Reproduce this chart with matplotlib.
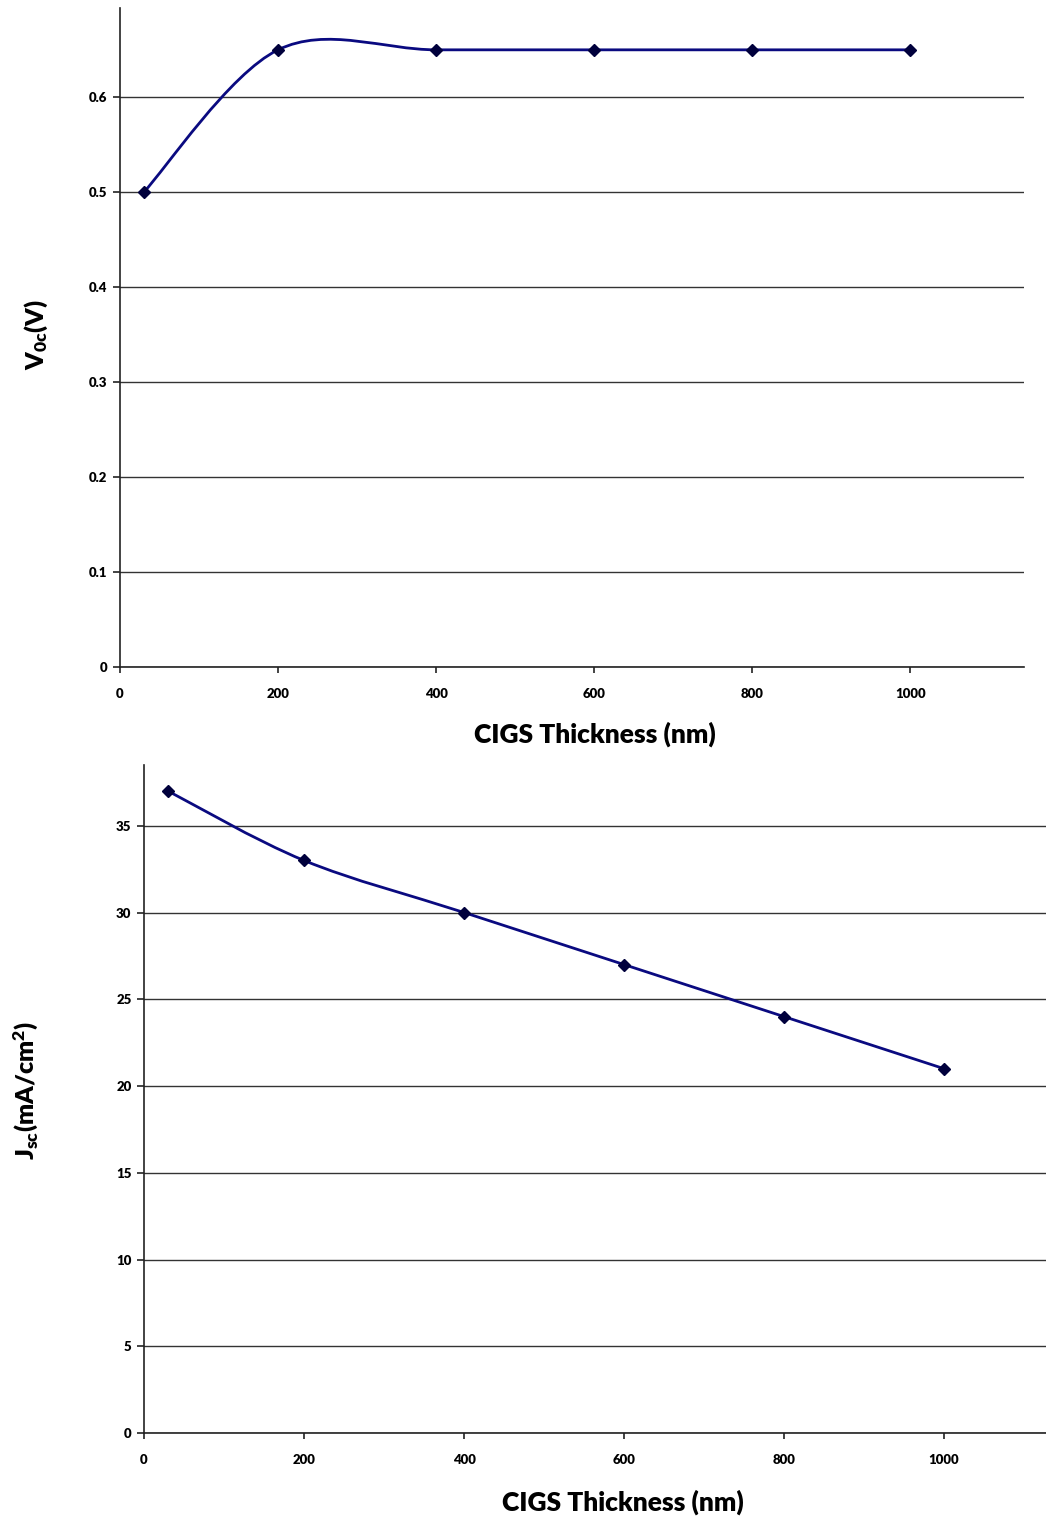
import matplotlib
matplotlib.use("Agg")
import matplotlib.pyplot as plt
from matplotlib.path import Path
from matplotlib.patches import PathPatch
import numpy as np

plt.rcParams['font.family'] = ['Lato', 'DejaVu Sans']
plt.rcParams['mathtext.default'] = 'regular'

thickness = [30, 200, 400, 600, 800, 1000]
voc = [0.5, 0.65, 0.65, 0.65, 0.65, 0.65]
jsc = [37, 33, 30, 27, 24, 21]

voc_yticks = [0, 0.1, 0.2, 0.3, 0.4, 0.5, 0.6]
voc_ytick_labels = ["0", "0.1", "0.2", "0.3", "0.4", "0.5", "0.6"]
jsc_yticks = [0, 5, 10, 15, 20, 25, 30, 35]
xticks = [0, 200, 400, 600, 800, 1000]

LINE = '#0a0a80'
MARK = '#00003c'


def smooth_path(x, y):
    x = np.asarray(x, float)
    y = np.asarray(y, float)
    n = len(x)
    verts = [(x[0], y[0])]
    codes = [Path.MOVETO]
    for i in range(n - 1):
        im1 = max(i - 1, 0)
        ip2 = min(i + 2, n - 1)
        c1 = (x[i] + (x[i + 1] - x[im1]) / 6, y[i] + (y[i + 1] - y[im1]) / 6)
        c2 = (x[i + 1] - (x[ip2] - x[i]) / 6, y[i + 1] - (y[ip2] - y[i]) / 6)
        verts += [c1, c2, (x[i + 1], y[i + 1])]
        codes += [Path.CURVE4] * 3
    return Path(verts, codes)


def style(ax, xlim, ylim, yticks, ylabels, xlabel, ylabel, ylab_x, ylab_y, xlab_x, xlab_y):
    ax.set_xlim(*xlim)
    ax.set_ylim(*ylim)
    ax.set_xticks(xticks)
    ax.set_xticklabels([str(t) for t in xticks], fontsize=9.5, fontweight='heavy')
    ax.set_yticks(yticks)
    ax.set_yticklabels(ylabels, fontsize=9.5, fontweight='heavy')
    ax.tick_params(axis='x', direction='out', length=4, width=1.2, pad=11, colors='#222222', labelcolor='black')
    ax.tick_params(axis='y', direction='out', length=5, width=1.2, pad=4, colors='#222222', labelcolor='black')
    ax.spines['top'].set_visible(False)
    ax.spines['right'].set_visible(False)
    for s in ['left', 'bottom']:
        ax.spines[s].set_color('#222222')
        ax.spines[s].set_linewidth(1.2)
    ax.grid(axis='y', color='#333333', linewidth=1.0)
    ax.set_axisbelow(True)
    ax.set_xlabel(xlabel, fontsize=19, fontweight='heavy')
    ax.set_ylabel(ylabel, fontsize=18, fontweight='heavy')
    ax.xaxis.set_label_coords(xlab_x, xlab_y)
    ax.yaxis.set_label_coords(ylab_x, ylab_y)


fig = plt.figure(figsize=(10.46, 15.2), dpi=100)

ax1 = fig.add_axes([0.1147, 0.5612, 0.979 - 0.1147, 0.9947 - 0.5612])
ax1.add_patch(PathPatch(smooth_path(thickness, voc), facecolor='none', edgecolor=LINE, lw=2.0, zorder=3))
ax1.plot(thickness, voc, linestyle='none', marker='D', markersize=6.5, color=MARK, zorder=4)
style(ax1, (0, 1144), (0, 0.694), voc_yticks, voc_ytick_labels,
      'CIGS Thickness (nm)', 'V$_{0c}$(V)', -0.077, 0.504, 0.525, -0.083)

ax2 = fig.add_axes([0.1377, 0.0572, 1.0 - 0.1377, 0.4967 - 0.0572])
ax2.add_patch(PathPatch(smooth_path(thickness, jsc), facecolor='none', edgecolor=LINE, lw=2.0, zorder=3))
ax2.plot(thickness, jsc, linestyle='none', marker='D', markersize=6.5, color=MARK, zorder=4)
style(ax2, (0, 1127.5), (0, 38.5), jsc_yticks, [str(t) for t in jsc_yticks],
      'CIGS Thickness (nm)', 'J$_{sc}$(mA/cm$^{2}$)', -0.115, 0.513, 0.531, -0.085)

fig.savefig('out.png', dpi=100)
